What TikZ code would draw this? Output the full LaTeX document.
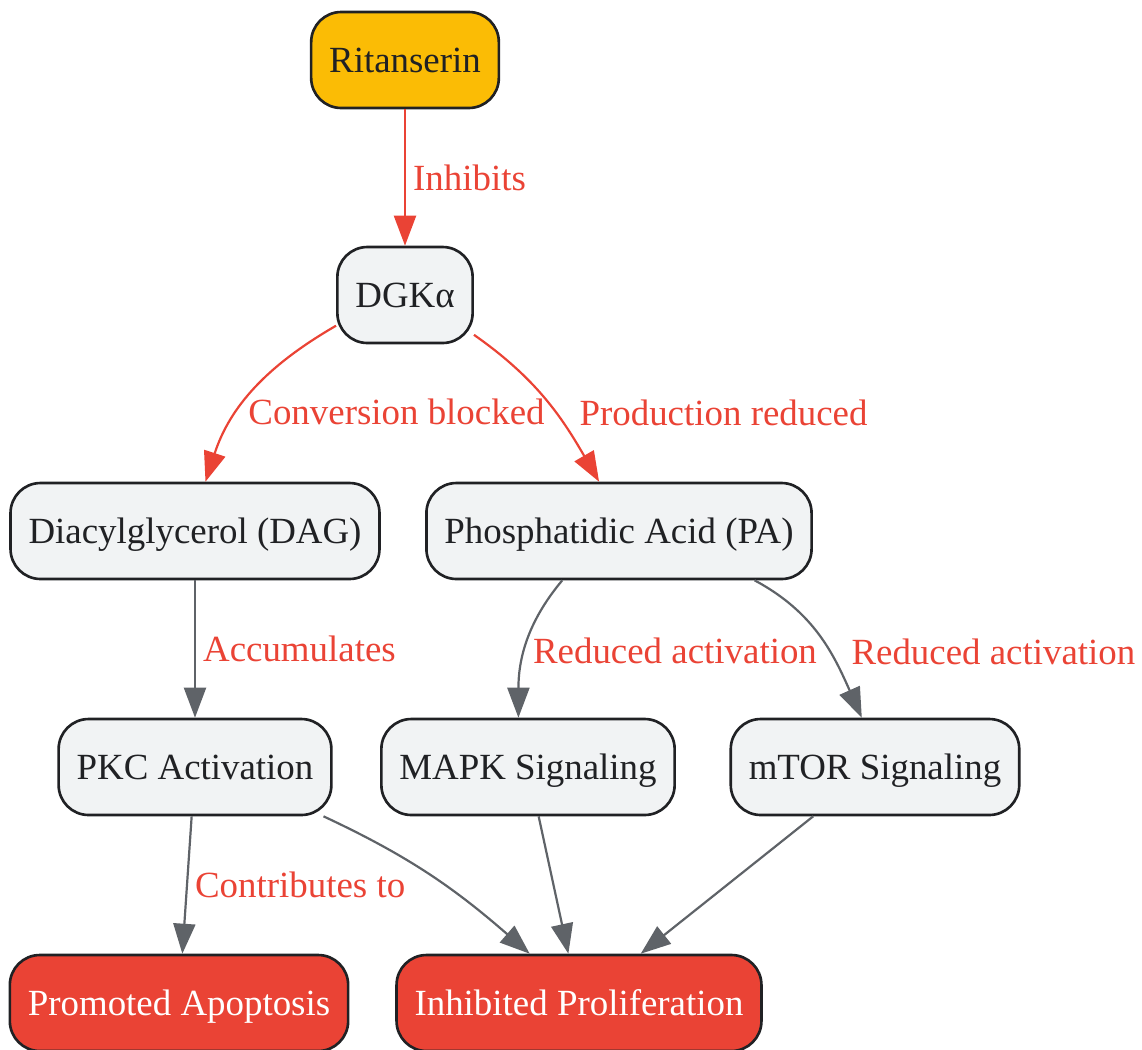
\documentclass[tikz,border=0pt]{standalone}
\usepackage{fontspec}
\setmainfont{Liberation Serif}
\usepackage{tikz}
\usetikzlibrary{arrows.meta}
\definecolor{nodegray}{HTML}{F1F3F4}
\definecolor{darktext}{HTML}{202124}
\definecolor{gred}{HTML}{EA4335}
\definecolor{gyellow}{HTML}{FBBC05}
\definecolor{edgegray}{HTML}{5F6368}
\tikzset{
box/.style = {rectangle, rounded corners=0.6cm, draw=darktext, line width=1.5pt,
              fill=nodegray, text=darktext, minimum height=1.92cm,
              text height=19pt, text depth=5.1pt,
              inner xsep=0.36cm, font=\fontsize{21}{25}\selectfont},
drug/.style = {box, fill=gyellow},
outcome/.style = {box, fill=gred, text=white}
}
\tikzset{
inh/.style = {draw=gred, line width=1.25pt, -{Triangle[length=0.6cm, width=0.44cm]}},
sig/.style = {draw=edgegray, line width=1.25pt, -{Triangle[length=0.6cm, width=0.44cm]}},
lbl/.style = {text=gred, inner sep=4pt, anchor=west, font=\fontsize{21}{25}\selectfont}
}

\begin{document}
\begin{tikzpicture}[x=0.02cm, y=-0.02cm]
    \useasboundingbox (0,0) rectangle (1142,1049);

    \node[drug] (rit) at (405,60) {Ritanserin};
    \node[box] (dgk) at (405,295) {DGKα};
    \node[box] (dag) at (195,531) {Diacylglycerol (DAG)};
    \node[box] (pa) at (619,531) {Phosphatidic Acid (PA)};
    \node[box] (pkc) at (195,767) {PKC Activation};
    \node[box] (mapk) at (528,767) {MAPK Signaling};
    \node[box] (mtor) at (875,767) {mTOR Signaling};
    \node[outcome] (apop) at (179,1003) {Promoted Apoptosis};
    \node[outcome] (prolif) at (579,1003) {Inhibited Proliferation};

\draw[inh] (rit) -- node[lbl, midway] {Inhibits} (dgk);
\draw[inh] (dgk.204) to[out=210, in=72] node[lbl, pos=0.64, xshift=0.05cm] {Conversion blocked} (dag.78);
\draw[inh] (dgk.-30) to[out=-35, in=120] node[lbl, pos=0.59, xshift=0.32cm] {Production reduced} (pa.112);
\draw[sig] (dag) -- node[lbl, midway] {Accumulates} (pkc);
\draw[sig] (pa.221) to[out=230, in=90] node[lbl, pos=0.55] {Reduced activation} (mapk.101);
\draw[sig] (pa.-20) to[out=-28, in=114] node[lbl, pos=0.6, xshift=0.28cm] {Reduced activation} (mtor.105);
\draw[sig] (pkc) -- node[lbl, pos=0.5] {Contributes to} (apop);
\draw[sig] (pkc.-21) to[out=-25, in=139] (prolif.135);
\draw[sig] (mapk) -- (prolif);
\draw[sig] (mtor) -- (prolif);
\end{tikzpicture}
\end{document}
